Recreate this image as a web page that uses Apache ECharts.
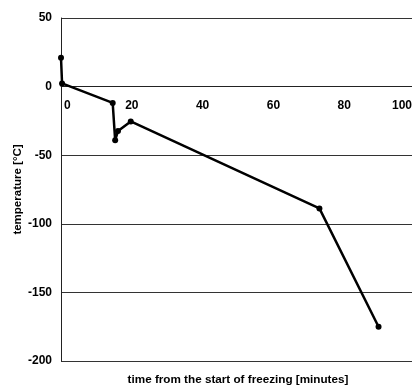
<!DOCTYPE html>
<html><head><meta charset="utf-8">
<script src="https://cdn.jsdelivr.net/npm/echarts@6/dist/echarts.min.js"></script>
<style>html,body{margin:0;padding:0;background:#fff}#c{width:412px;height:386px}</style>
</head><body><div id="c"></div>
<script>
const timeMin = [0, 0.3, 14.6, 15.3, 16.1, 19.7, 73, 89.7];
const tempC = [21, 2.3, -11.9, -39.1, -32.4, -25.4, -88.8, -175];
const xTicks = [0, 20, 40, 60, 80, 100];
const yTicks = [-200, -150, -100, -50, 0, 50];
const xName = 'time from the start of freezing [minutes]';
const yName = 'temperature [°C]';

const font = 'Liberation Sans, Arial, Helvetica, sans-serif';
const gridTop = 18, gridBottom = 25, H = 386;
const plotH = H - gridTop - gridBottom;
const yMin = yTicks[0], yMax = yTicks[yTicks.length - 1];
// shift the x axis up so that it lies on the y = 0 line
const zeroOffset = -plotH * (0 - yMin) / (yMax - yMin);

const chart = echarts.init(document.getElementById('c'), null, {renderer: 'canvas'});
chart.setOption({
  animation: false,
  title: {text: xName, left: 238, top: 374, textAlign: 'center',
    textStyle: {color: '#000', fontWeight: 'bold', fontSize: 11.7, fontFamily: font}, padding: 0},
  grid: {left: 61, right: -3, top: gridTop, bottom: gridBottom, containLabel: false, outerBoundsMode: 'none'},
  xAxis: {
    type: 'value', min: xTicks[0], max: xTicks[xTicks.length - 1], interval: 20,
    position: 'bottom', offset: zeroOffset,
    axisLine: {onZero: false, lineStyle: {color: '#222', width: 1}},
    axisTick: {show: false},
    splitLine: {show: false},
    axisLabel: {color: '#000', fontWeight: 'bold', fontSize: 12, fontFamily: font, margin: 13,
      alignMinLabel: 'left', alignMaxLabel: 'right',
      formatter: v => v === 100 ? '{m|100}' : (v === 0 ? '{z|0}' : String(v)),
      rich: {
        m: {color: '#000', fontWeight: 'bold', fontSize: 12, fontFamily: font, padding: [0, 3, 0, 0]},
        z: {color: '#000', fontWeight: 'bold', fontSize: 12, fontFamily: font, padding: [0, 0, 0, 3]}
      }}
  },
  yAxis: {
    type: 'value', min: yMin, max: yMax, interval: 50,
    axisLine: {show: true, onZero: false, lineStyle: {color: '#222', width: 1}},
    axisTick: {show: false},
    splitLine: {show: true, lineStyle: {color: '#333', width: 1}},
    axisLabel: {color: '#000', fontWeight: 'bold', fontSize: 12, fontFamily: font, margin: 9},
    name: yName, nameLocation: 'middle', nameGap: 37, nameRotate: 90, nameMoveOverlap: false,
    nameTextStyle: {color: '#000', fontWeight: 'bold', fontSize: 11.5, fontFamily: font}
  },
  series: [{
    type: 'line',
    data: timeMin.map((t, i) => [t, tempC[i]]),
    symbol: 'circle', symbolSize: 6,
    lineStyle: {color: '#000', width: 2.5},
    itemStyle: {color: '#000'}
  }]
});
</script></body></html>
